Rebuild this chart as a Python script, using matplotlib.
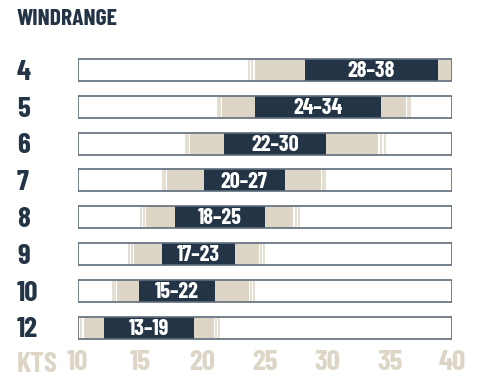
import matplotlib
matplotlib.use("Agg")
from matplotlib import pyplot as plt
from matplotlib import font_manager
from matplotlib.patches import Rectangle

# pick a condensed face if one is installed
have = {f.name for f in font_manager.fontManager.ttflist}
fams = [f for f in ['Barlow Condensed', 'Roboto Condensed', 'Oswald',
                    'Liberation Sans Narrow'] if f in have]
plt.rcParams['font.family'] = fams + ['DejaVu Sans']

# wind range per kite size (knots)
sizes = ['4', '5', '6', '7', '8', '9', '10', '12']
range_labels = ['28–38', '24–34', '22–30', '20–27', '18–25', '17–23', '15–22', '13–19']
dark_lo = [28.2, 24.2, 21.7, 20.1, 17.8, 16.8, 14.9, 12.1]
dark_hi = [38.9, 34.3, 29.9, 26.6, 25.0, 22.6, 21.0, 19.3]
beige_lo = [24.2, 21.6, 19.0, 17.2, 15.5, 14.5, 13.2, 10.5]
beige_hi = [40.0, 36.3, 34.1, 29.5, 27.3, 24.5, 23.7, 20.9]
fade_lo = [23.7, 21.2, 18.6, 16.8, 15.0, 14.1, 12.8, 10.0]
fade_hi = [40.0, 36.7, 34.7, 29.9, 27.8, 25.0, 24.2, 21.4]
ticks = [10, 15, 20, 25, 30, 35, 40]

navy = '#243447'
beige = '#ddd5c6'
edge = '#5f6c7c'

W, H = 479, 392
fig = plt.figure(figsize=(W / 100, H / 100), dpi=100)
# x: 10 kts at px 77.5, 40 kts at px 452 ; rows: first centre at px 70, step 36.8
ax_top, ax_bot = 40, 350
ax = fig.add_axes([77.5 / W, 1 - ax_bot / H, (452 - 77.5) / W, (ax_bot - ax_top) / H])
step = 36.8
ax.set_xlim(10, 40)
ax.set_ylim((ax_bot - 70) / step, -(70 - ax_top) / step)
for s in ax.spines.values():
    s.set_visible(False)
ax.set_yticks([])

bh = 0.6
for i in range(len(sizes)):
    y0 = i - bh / 2
    ax.add_patch(Rectangle((10, y0), 30, bh, facecolor='white', edgecolor='none', zorder=1))
    # faded edges: thin beige lines before the solid beige part
    for lo, hi, left in [(fade_lo[i], beige_lo[i], True), (beige_hi[i], fade_hi[i], False)]:
        if hi - lo > 0.05:
            for f in (0.15, 0.6):
                xx = lo + f * (hi - lo) if left else hi - f * (hi - lo)
                ax.plot([xx, xx], [y0, y0 + bh], color=beige, lw=1.1, zorder=2,
                        solid_capstyle='butt')
    ax.add_patch(Rectangle((beige_lo[i], y0), beige_hi[i] - beige_lo[i], bh,
                           facecolor=beige, edgecolor='none', zorder=3))
    ax.add_patch(Rectangle((dark_lo[i], y0), dark_hi[i] - dark_lo[i], bh,
                           facecolor=navy, edgecolor='none', zorder=4))
    ax.add_patch(Rectangle((10, y0), 30, bh, facecolor='none', edgecolor=edge,
                           lw=1.2, zorder=5))
    ax.text((dark_lo[i] + dark_hi[i]) / 2, i + 0.03, range_labels[i], color='white',
            fontsize=16, fontweight='bold', ha='center', va='center', zorder=6)
    ax.text(-0.1615, i + 0.06, sizes[i], transform=ax.get_yaxis_transform(),
            color=navy, fontsize=21, fontweight='bold', ha='left', va='center')

ax.set_xticks(ticks)
ax.set_xticklabels([str(t) for t in ticks], color=beige, fontsize=21, fontweight='bold')
ax.tick_params(axis='x', length=0, pad=0)
ax.text(-0.1615, -0.005, 'KTS', transform=ax.transAxes, color=beige, fontsize=21,
        fontweight='bold', ha='left', va='top')

fig.text(17 / W, 1 - 19 / H, 'WINDRANGE', color=navy, fontsize=17, fontweight='bold',
         ha='left', va='center')

fig.savefig('out.png', dpi=100, facecolor='white')
